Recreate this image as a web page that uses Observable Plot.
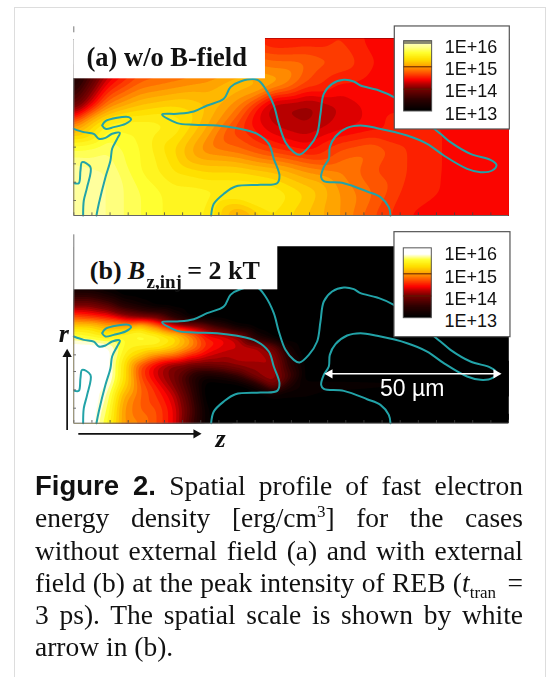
<!DOCTYPE html>
<html><head><meta charset="utf-8">
<script src="https://cdn.jsdelivr.net/npm/d3@7"></script>
<script src="https://cdn.jsdelivr.net/npm/@observablehq/plot@0.6"></script>
<style>
html,body{margin:0;padding:0;background:#fff;width:550px;height:677px;overflow:hidden}
#frame{position:absolute;left:14px;top:7px;width:530px;height:700px;border:1.5px solid #ddd}
#a,#b{position:absolute;left:0;filter:blur(.5px)}
#a{top:0}#b{top:230px}
svg{display:block;background:transparent}
#cap{position:absolute;left:35px;top:470px;width:488px;font:27.5px/32.3px "Liberation Serif",serif;color:#111;filter:blur(.3px)}
#cap div{text-align:justify;text-align-last:justify;white-space:nowrap}
#cap div:last-child{text-align-last:left}
#cap b{font:bold 27.5px "Liberation Sans",sans-serif}
#cap sup,#cap sub{font-size:17px;line-height:0}
#cap sub{margin-right:4px}
</style></head><body>
<div id="frame"></div>
<div id="a"></div><div id="b"></div>
<div id="cap"><div><b>Figure 2.</b> Spatial profile of fast electron</div><div>energy density [erg/cm<sup>3</sup>] for the cases</div><div>without external field (a) and with external</div><div>field (b) at the peak intensity of REB (<i>t</i><sub>tran</sub> =</div><div>3 ps). The spatial scale is shown by white</div><div>arrow in (b).</div></div>
<script>
// Grid positions (z along the axis, r upward), in picture units: 10.5 units per µm
const zGridA=[0,100,200,300,400,500,600,700,800,900,1000,1100,1200,1305];
const rGridA=[530,464,398,332,265,199,132,66,0];
// log10 fast electron energy density, panel (a), one row per rGridA entry
const densityA=[
[13.2,13.8,14.4,14.6,14.7,14.8,14.45,14.5,14.6,14.45,14.5,14.45,14.45,14.45],
[13.2,14.0,14.6,14.7,14.8,14.9,14.8,14.8,14.7,14.5,14.45,14.45,14.45,14.45],
[13.3,14.4,14.8,14.9,15.0,15.2,15.1,14.7,14.5,14.45,14.45,14.45,14.45,14.45],
[13.8,14.9,15.2,15.3,15.2,14.9,14.2,14.15,14.3,14.45,14.45,14.45,14.45,14.45],
[15.0,15.6,15.6,15.5,15.1,14.6,14.3,14.2,14.35,14.45,14.6,14.5,14.45,14.45],
[15.7,15.8,15.6,15.3,14.9,14.8,14.6,14.45,14.7,14.8,14.6,14.5,14.45,14.45],
[16,15.9,15.6,15.4,15.3,15.3,15.2,15.0,14.9,14.7,14.6,14.5,14.45,14.45],
[16,15.9,15.7,15.55,15.55,15.55,15.5,15.3,15.0,14.8,14.55,14.5,14.45,14.45],
[16,15.9,15.7,15.55,15.5,15.0,15.4,15.2,15.0,14.7,14.5,14.45,14.45,14.45]];
// panel (b), one row per rGridB entry
const zGridB=[0,50,100,150,200,250,300,350,400,450,500,550,600,650,700,750,1305];
const rGridB=[530,420,390,355,320,290,260,230,200,170,140,110,80,40,0];
const densityB=[
[13,13,13,13,13,13,13,13,13,13,13,13,13,13,13,13,13],
[13,13,13,13,13,13,13,13,13,13,13,13,13,13,13,13,13],
[13.4,13.4,13.2,13,13,13,13,13,13,13,13,13,13,13,13,13,13],
[14.0,14.0,13.8,13.4,13.2,13,13,13,13,13,13,13,13,13,13,13,13],
[14.7,14.6,14.5,14.2,14.0,13.9,13.4,13,13,13,13,13,13,13,13,13,13],
[15.3,15.3,15.1,15.1,15.3,14.9,14.4,14.2,13.9,13.5,13.1,13,13,13,13,13,13],
[15.7,15.6,15.5,15.6,15.7,15.6,15.4,15.0,14.5,14.4,14.1,13.3,13,13,13,13,13],
[16,16,15.9,15.6,15.5,15.5,15.3,15.0,14.6,14.4,14.3,14.2,13.9,13.2,13,13,13],
[16,16,16,15.5,15.2,14.9,14.8,14.5,14.3,14.2,14.3,14.3,14.1,13.4,13,13,13],
[16,16,16,15.4,14.7,14.3,14.0,13.9,13.9,14.0,14.1,14.1,14.2,13.5,13,13,13],
[16,16,16,15.4,14.7,14.3,14.0,13.5,13.2,13.3,13.6,14.1,14.2,13.7,13,13,13],
[16,16,15.9,15.3,14.8,14.5,14.1,13.6,13.0,13,13,13.3,14.0,13.3,13.2,13.2,13],
[16,16,15.8,15.1,14.8,14.6,14.3,13.7,13.0,13,13,13,13.1,13.1,13.1,13,13],
[16,16,15.7,15.0,14.8,14.7,14.4,13.8,13.1,13,13,13,13,13,13,13,13],
[16,16,15.6,15.0,14.9,14.7,14.4,13.7,13.1,13,13,13,13,13,13,13,13]];
// Target density contours
const mainZ=[412,420,450,485,560,610,617,600,585,550,490,430,360,310,265,310,360,400,450,470,500,550,575,600,615,635,660,677,705,730,740,750,775,810,840,860,910,960,1100,1130,1190,1250,1268,1255,1220,1180,1110,1060,1000,910,860,820,785,768,765,750,742,750,810,880,920,945,950];
const mainR=[0,35,65,87,92,97,120,170,215,245,262,270,272,277,303,305,312,330,350,385,402,407,380,330,275,220,190,182,205,245,305,365,395,407,402,390,377,355,245,220,185,167,152,135,130,140,180,215,240,262,270,263,237,205,170,145,115,103,97,72,55,25,0];
const lobeZ=[85,95,130,165,172,155,120,95,85];
const lobeR=[270,283,293,295,288,275,265,260,270];
const leftZ=[0,30,60,75,95,115,138,130,115,110,95,75,68];
const leftR=[260,250,245,230,233,245,248,230,200,165,115,35,0];
const innerZ=[28,30,40,50,25,20,15,2];
const innerR=[0,45,85,145,160,135,97,97];
// Axis ticks along the panel edges
const zTicks=d3.range(0,1305,54.4);
const rTicks=[45,100,155,205];
// Colour bar
const levels=d3.range(13,16.001,0.03);
const barLabels=["1E+13","1E+14","1E+15","1E+16"];
const barValues=[13,14,15,16];
const colorDomain=[13,13.5,14,14.2,14.38,14.8,15,15.3,15.6,15.85,16];
const colorRangeA=["#000000","#2e0000","#7c0000","#b80000","#fb0000","#ff7000","#ffa400","#ffe000","#ffff30","#ffff90","#ffffb8"];
const colorRangeB=["#000000","#2e0000","#7c0000","#b80000","#fb0000","#ff7000","#ffa400","#ffe000","#ffff30","#ffffff","#ffffff"];
const gridRows=(m,zs,rs)=>m.flatMap((row,i)=>row.map((v,j)=>({z:zs[j],r:rs[i],v})));
const line=(z,r)=>z.map((d,i)=>({z:d,r:r[i]}));
const serif='"Liberation Serif",serif',sans='"Liberation Sans",sans-serif';
const teal="#22a3a8";

function panel(rows,o){
  const L=o.leg;
  return Plot.plot({
    width:550,height:o.height,marginLeft:73.3,marginRight:41.7,marginTop:o.top,marginBottom:o.bottom,
    x:{domain:[0,1305],axis:null},y:{domain:[0,530],axis:null},
    color:{type:"linear",domain:colorDomain,range:o.colors,clamp:true},
    style:{background:"transparent",overflow:"visible"},
    marks:[
      Plot.contour(rows,{x:"z",y:"r",fill:"v",interpolate:"barycentric",pixelSize:1,blur:o.blur,
        thresholds:d3.range(12.9,16.05,0.1),x1:0,x2:1305,y1:0,y2:530,stroke:"none"}),
      ...[line(mainZ,mainR),line(lobeZ,lobeR),line(leftZ,leftR),line(innerZ,innerR)].map(d=>
        Plot.line(d,{x:"z",y:"r",stroke:teal,strokeWidth:2,curve:"catmull-rom"})),
      Plot.ruleX(zTicks,{x:d=>d,y1:0,y2:8,stroke:"#444",strokeWidth:.8}),
      Plot.ruleY(rTicks,{y:d=>d,x1:0,x2:8,stroke:"#444",strokeWidth:.8}),
      Plot.ruleY([0],{x1:0,x2:1305,stroke:"#666",strokeWidth:1}),
      Plot.rect([o.label],{x1:0,x2:o.label.z2,y1:o.label.r1,y2:545,fill:"white"}),
      ...o.axis.map(([r1,r2])=>Plot.ruleX([0],{y1:r1,y2:r2,stroke:"#777",strokeWidth:1})),
      ...o.text,
      Plot.rect([L],{x1:L.z1,x2:L.z2,y1:L.r1,y2:L.r2,fill:"white",stroke:"#555",strokeWidth:1.2}),
      Plot.rect(levels,{x1:L.z1+28,x2:L.z1+112,y1:d=>L.r13+(d-13)*L.dec,y2:d=>L.r13+(d+0.08-13)*L.dec,fill:d=>d}),
      Plot.rect([L],{x1:L.z1+28,x2:L.z1+112,y1:L.r13+3*L.dec,y2:L.r13+3*L.dec+10,fill:L.cap}),
      Plot.rect([L],{x1:L.z1+28,x2:L.z1+112,y1:L.r13,y2:L.r13+3*L.dec+10,stroke:"#555",strokeWidth:1,fill:"none"}),
      Plot.ruleY([14,15],{y:d=>L.r13+(d-13)*L.dec,x1:L.z1+28,x2:L.z1+112,stroke:"#5a1a00",strokeWidth:1}),
      Plot.text(barValues,{x:L.z1+150,y:d=>L.labelR+(d-13)*L.dec,text:(d,i)=>barLabels[i],textAnchor:"start",fontFamily:sans,fontSize:18,fill:"#111"}),
      ...(o.extra||[])
    ]
  });
}
const bold={fontFamily:serif,fontWeight:"bold",fill:"#111",textAnchor:"start"};
const textAt=(s,z,r,opt)=>Plot.text([s],{x:z,y:r,text:d=>d,...opt});
const head=(z,r,rotate,fill)=>Plot.dot([0],{x:z,y:r,symbol:"triangle2",r:4.5,rotate,fill,stroke:"none"});

document.getElementById("a").append(panel(gridRows(densityA,zGridA,rGridA),{
  height:230,top:38.3,bottom:15,blur:5,axis:[[0,410],[548,566]],colors:colorRangeA,
  label:{z2:575,r1:410},
  leg:{z1:963,z2:1308,r1:258,r2:567,r13:312,dec:67,labelR:305,cap:"#8a8a70"},
  text:[textAt("(a) w/o B-field",38,475,{...bold,fontSize:26.5})]
}));
document.getElementById("b").append(panel(gridRows(densityB,zGridB,rGridB),{
  height:220,top:16,bottom:27.3,blur:3,axis:[[0,565]],colors:colorRangeB,
  label:{z2:612,r1:400},
  leg:{z1:962,z2:1310,r1:258,r2:573,r13:315,dec:66.5,labelR:306,cap:"#ffffff"},
  text:[
    textAt("(b)",48,458,{...bold,fontSize:26}),
    textAt("B",162,458,{...bold,fontSize:26,fontStyle:"italic"}),
    textAt("z,inj",218,425,{...bold,fontSize:19}),
    textAt("= 2 kT",340,458,{...bold,fontSize:26})
  ],
  extra:[
    Plot.ruleX([-20],{y1:-22,y2:205,stroke:"#111",strokeWidth:1.7}),
    head(-20,207,0,"#111"),
    Plot.ruleY([-32],{x1:15,x2:365,stroke:"#111",strokeWidth:1.7}),
    head(367,-32,90,"#111"),
    textAt("r",-30,268,{...bold,fontStyle:"italic",fontSize:26,textAnchor:"middle"}),
    textAt("z",440,-47,{...bold,fontStyle:"italic",fontSize:26,textAnchor:"middle"}),
    Plot.ruleY([148],{x1:770,x2:1265,stroke:"white",strokeWidth:1.5}),
    head(768,148,-90,"white"),
    head(1267,148,90,"white"),
    textAt("50 µm",1015,103,{fontFamily:sans,fontSize:23,fill:"white",textAnchor:"middle"})
  ]
}));
</script></body></html>
